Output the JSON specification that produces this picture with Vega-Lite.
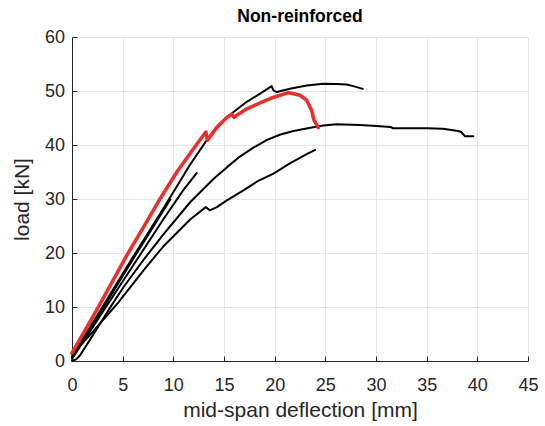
{
  "$schema": "https://vega.github.io/schema/vega-lite/v6.json",
  "autosize": "none",
  "width": 456,
  "height": 324,
  "padding": {"left": 72, "top": 37, "right": 17, "bottom": 65},
  "background": "white",
  "title": {"text": "Non-reinforced", "fontSize": 17.5, "fontWeight": "bold", "font": "Liberation Sans", "color": "#000000", "anchor": "middle", "offset": 3},
  "config": {
    "view": {"stroke": null},
    "axis": {"labelFont": "Liberation Sans", "titleFont": "Liberation Sans", "labelFontSize": 18, "titleFontSize": 21, "titleFontWeight": "normal", "labelColor": "#262626", "titleColor": "#262626", "domainColor": "#262626", "tickColor": "#262626", "gridColor": "#e6e6e6", "gridWidth": 1, "tickSize": -5, "labelFlush": false, "labelOverlap": false}
  },
  "data": {"values": [
    {"s":"A","o":1,"x":0,"y":0.8},{"s":"A","o":2,"x":3,"y":10},{"s":"A","o":3,"x":6,"y":19.2},{"s":"A","o":4,"x":9,"y":28.2},{"s":"A","o":5,"x":11.66,"y":36.4},{"s":"A","o":6,"x":13.3,"y":40.9},{"s":"A","o":7,"x":15.3,"y":45.2},{"s":"A","o":8,"x":17.25,"y":48.0},{"s":"A","o":9,"x":18.56,"y":49.5},{"s":"A","o":10,"x":19.71,"y":50.9},{"s":"A","o":11,"x":19.87,"y":50.1},{"s":"A","o":12,"x":20.2,"y":49.8},{"s":"A","o":13,"x":21.5,"y":50.4},{"s":"A","o":14,"x":23.16,"y":51.0},{"s":"A","o":15,"x":24.8,"y":51.36},{"s":"A","o":16,"x":26.1,"y":51.3},{"s":"A","o":17,"x":27.1,"y":51.2},{"s":"A","o":18,"x":27.76,"y":50.9},{"s":"A","o":19,"x":28.7,"y":50.4},
    {"s":"E","o":1,"x":0,"y":0.6},{"s":"E","o":2,"x":3,"y":9.6},{"s":"E","o":3,"x":6,"y":18.8},{"s":"E","o":4,"x":9.7,"y":29.9},
    {"s":"D","o":1,"x":0,"y":0.4},{"s":"D","o":2,"x":3,"y":9.0},{"s":"D","o":3,"x":6,"y":17.6},{"s":"D","o":4,"x":9,"y":26.2},{"s":"D","o":5,"x":11,"y":31.7},{"s":"D","o":6,"x":12.3,"y":34.8},
    {"s":"B","o":1,"x":0,"y":0},{"s":"B","o":2,"x":0.4,"y":0.3},{"s":"B","o":3,"x":0.8,"y":1.05},{"s":"B","o":4,"x":2,"y":4.6},{"s":"B","o":5,"x":3.9,"y":10.3},{"s":"B","o":6,"x":5.09,"y":13.7},{"s":"B","o":7,"x":7,"y":18.6},{"s":"B","o":8,"x":9,"y":23.4},{"s":"B","o":9,"x":11.66,"y":29.4},{"s":"B","o":10,"x":13.96,"y":33.7},{"s":"B","o":11,"x":15.3,"y":35.9},{"s":"B","o":12,"x":16.6,"y":37.9},{"s":"B","o":13,"x":17.9,"y":39.5},{"s":"B","o":14,"x":19.2,"y":40.9},{"s":"B","o":15,"x":20.5,"y":41.9},{"s":"B","o":16,"x":21.85,"y":42.6},{"s":"B","o":17,"x":23.8,"y":43.3},{"s":"B","o":18,"x":24.8,"y":43.6},{"s":"B","o":19,"x":26.1,"y":43.85},{"s":"B","o":20,"x":28.4,"y":43.7},{"s":"B","o":21,"x":30.06,"y":43.5},{"s":"B","o":22,"x":31.4,"y":43.35},{"s":"B","o":23,"x":31.7,"y":43.1},{"s":"B","o":24,"x":33.3,"y":43.1},{"s":"B","o":25,"x":35.0,"y":43.1},{"s":"B","o":26,"x":36.6,"y":43.0},{"s":"B","o":27,"x":38.1,"y":42.6},{"s":"B","o":28,"x":38.4,"y":42.4},{"s":"B","o":29,"x":38.8,"y":41.6},{"s":"B","o":30,"x":39.6,"y":41.6},
    {"s":"C","o":1,"x":0,"y":1.2},{"s":"C","o":2,"x":2,"y":5.3},{"s":"C","o":3,"x":4.56,"y":10.8},{"s":"C","o":4,"x":7.06,"y":16.8},{"s":"C","o":5,"x":9,"y":21.2},{"s":"C","o":6,"x":11.66,"y":26.2},{"s":"C","o":7,"x":13.2,"y":28.5},{"s":"C","o":8,"x":13.6,"y":27.9},{"s":"C","o":9,"x":14.29,"y":28.5},{"s":"C","o":10,"x":15.28,"y":29.75},{"s":"C","o":11,"x":16.92,"y":31.6},{"s":"C","o":12,"x":18.23,"y":33.2},{"s":"C","o":13,"x":19.88,"y":34.7},{"s":"C","o":14,"x":21.5,"y":36.6},{"s":"C","o":15,"x":23.16,"y":38.3},{"s":"C","o":16,"x":24.0,"y":39.1},
    {"s":"R","o":1,"x":0,"y":1.5},{"s":"R","o":2,"x":2.14,"y":8.46},{"s":"R","o":3,"x":3.78,"y":14.0},{"s":"R","o":4,"x":5.42,"y":19.6},{"s":"R","o":5,"x":7.06,"y":24.8},{"s":"R","o":6,"x":8.71,"y":30.1},{"s":"R","o":7,"x":10.35,"y":35.0},{"s":"R","o":8,"x":11.99,"y":39.3},{"s":"R","o":9,"x":13.21,"y":42.4},{"s":"R","o":10,"x":13.37,"y":40.9},{"s":"R","o":11,"x":14.29,"y":43.3},{"s":"R","o":12,"x":15.28,"y":45.1},{"s":"R","o":13,"x":15.77,"y":45.7},{"s":"R","o":14,"x":16.0,"y":45.1},{"s":"R","o":15,"x":16.26,"y":45.5},{"s":"R","o":16,"x":17.25,"y":46.7},{"s":"R","o":17,"x":18.56,"y":47.8},{"s":"R","o":18,"x":19.55,"y":48.6},{"s":"R","o":19,"x":20.53,"y":49.2},{"s":"R","o":20,"x":21.35,"y":49.7},{"s":"R","o":21,"x":21.85,"y":49.5},{"s":"R","o":22,"x":22.5,"y":49.2},{"s":"R","o":23,"x":23.16,"y":48.3},{"s":"R","o":24,"x":23.65,"y":46.4},{"s":"R","o":25,"x":23.88,"y":44.6},{"s":"R","o":26,"x":24.31,"y":43.2}
  ]},
  "encoding": {
    "x": {"field": "x", "type": "quantitative", "scale": {"domain": [0, 45], "nice": false, "zero": false}, "axis": {"values": [0,5,10,15,20,25,30,35,40,45], "title": "mid-span deflection [mm]", "labelPadding": 20, "titlePadding": 5}},
    "y": {"field": "y", "type": "quantitative", "scale": {"domain": [0, 60], "nice": false}, "axis": {"values": [0,10,20,30,40,50,60], "title": "load [kN]", "labelPadding": 12.5, "titlePadding": 12}},
    "order": {"field": "o", "type": "quantitative"},
    "detail": {"field": "s", "type": "nominal"}
  },
  "layer": [
    {"transform": [{"filter": "datum.s !== 'R'"}], "mark": {"type": "line", "color": "#000000", "strokeWidth": 2, "strokeJoin": "round", "strokeCap": "round"}},
    {"transform": [{"filter": "datum.s === 'R'"}], "mark": {"type": "line", "color": "#e8302e", "strokeWidth": 3.6, "strokeJoin": "round", "strokeCap": "round"}}
  ]
}
